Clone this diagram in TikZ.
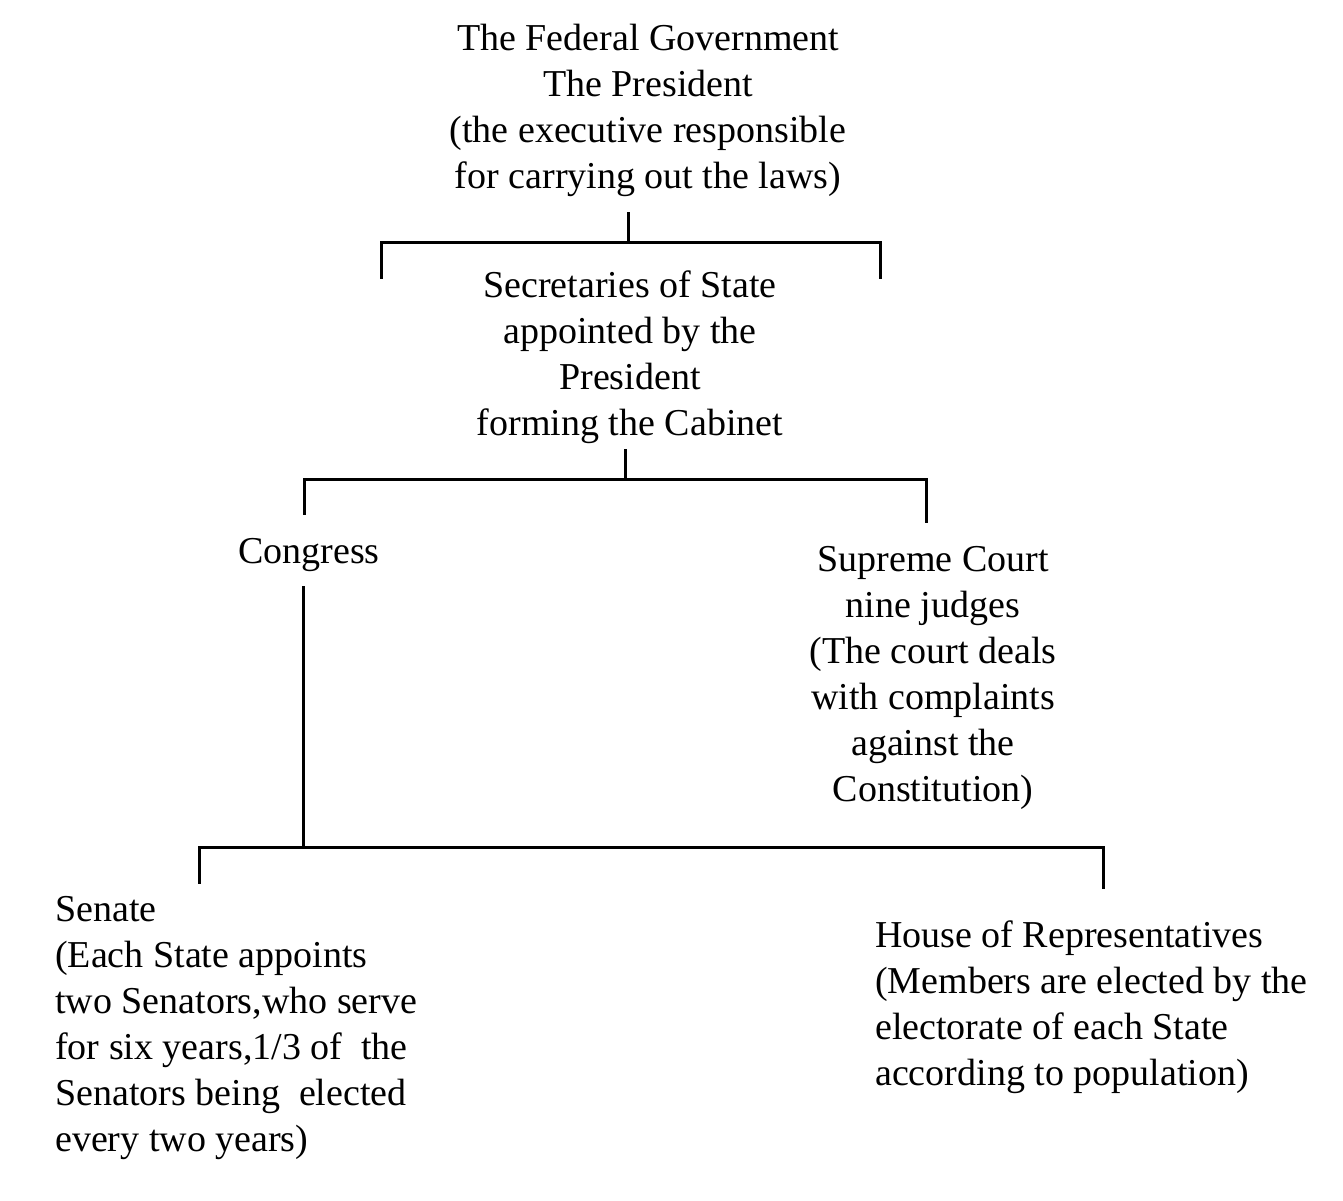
\documentclass[tikz,border=0pt]{standalone}
\usepackage{fontspec}
\setmainfont{Liberation Serif}
\begin{document}
\begin{tikzpicture}[x=1pt,y=-1pt,
  txt/.style={inner sep=0pt, align=center, font=\fontsize{38}{46}\selectfont},
  ln/.style={line width=3pt, line cap=rect}]
\useasboundingbox[fill=white] (0,0) rectangle (1343,1200);
% text blocks
\node[txt] (fed) at (648,110) {The Federal Government\\The President\\(the executive responsible\\for carrying out the laws)};
\node[txt] (sec) at (630,357) {Secretaries of State\\appointed by the\\President\\forming the Cabinet};
\node[txt] (cong) at (309,555) {Congress};
\node[txt] (sc) at (933,678) {Supreme Court\\nine judges\\(The court deals\\with complaints\\against the\\Constitution)};
\node[txt, align=left, anchor=west] (sen) at (55,1028) {Senate\\(Each State appoints\\two Senators,who serve\\for six years,1/3 of\ \ the\\Senators being\ \ elected\\every two years)};
\node[txt, align=left, anchor=west] (house) at (875,1007) {House of Representatives\\(Members are elected by the\\electorate of each State\\according to population)};
% junction coordinates
\coordinate (fedS) at (628,213);
\coordinate (j1) at (628,242);
\coordinate (j1L) at (381,242);
\coordinate (j1R) at (880,242);
\coordinate (secL) at (381,277);
\coordinate (secR) at (880,277);
\coordinate (secS) at (625,450);
\coordinate (j2) at (625,479);
\coordinate (j2L) at (304,479);
\coordinate (j2R) at (926,479);
\coordinate (congN) at (304,513);
\coordinate (scN) at (926,521);
\coordinate (congS) at (303,587);
\coordinate (j3) at (303,847);
\coordinate (j3L) at (199,847);
\coordinate (j3R) at (1103,847);
\coordinate (senN) at (199,882);
\coordinate (houseN) at (1103,887);
% connectors
\draw[ln] (fedS) -- (j1);
\draw[ln] (secL) -- (j1L) -- (j1R) -- (secR);
\draw[ln] (secS) -- (j2);
\draw[ln] (congN) -- (j2L) -- (j2R) -- (scN);
\draw[ln] (congS) -- (j3);
\draw[ln] (senN) -- (j3L) -- (j3R) -- (houseN);
\end{tikzpicture}
\end{document}
